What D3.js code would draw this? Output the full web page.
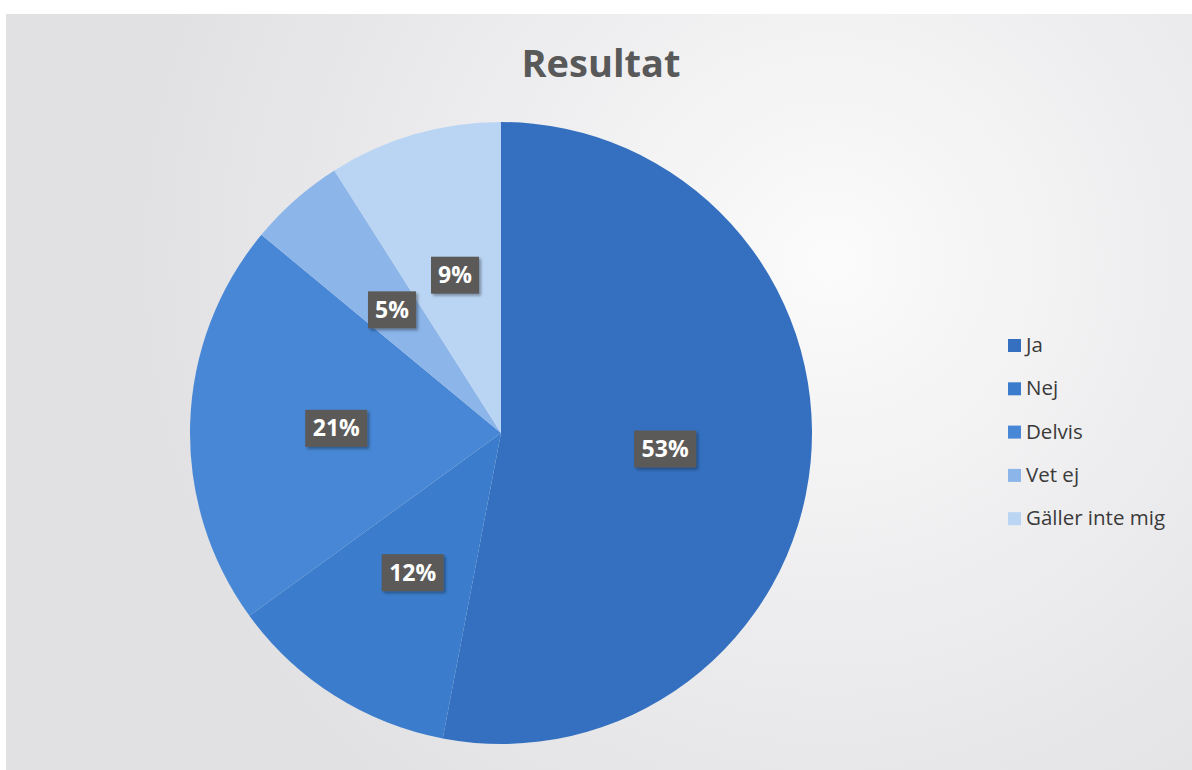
<!DOCTYPE html>
<html>
<head>
<meta charset="utf-8">
<script src="https://cdn.jsdelivr.net/npm/d3@7"></script>
<style>
  body { margin:0; background:#fff; }
  svg { display:block; }
</style>
</head>
<body>
<svg id="chart" width="1192" height="770"></svg>
<script>

// data
var categories = ['Ja', 'Nej', 'Delvis', 'Vet ej', 'Gäller inte mig'];
var values = [53, 12, 21, 5, 9];
var colors = ['#3470bf', '#3b7dcc', '#4787d5', '#8cb5ea', '#bad5f4'];

var width = 1192, height = 770;
var cx = 501, cy = 433, radius = 311;

var svg = d3.select('#chart');

// background panel with a soft light spot
var defs = svg.append('defs');
var grad = defs.append('radialGradient')
  .attr('id', 'bg')
  .attr('gradientUnits', 'userSpaceOnUse')
  .attr('cx', 830).attr('cy', 260).attr('r', 700);
grad.append('stop').attr('offset', '0%').attr('stop-color', '#fbfbfb');
grad.append('stop').attr('offset', '55%').attr('stop-color', '#ececee');
grad.append('stop').attr('offset', '100%').attr('stop-color', '#e1e1e3');

var shadow = defs.append('filter').attr('id', 'shadow')
  .attr('x', '-20%').attr('y', '-20%').attr('width', '150%').attr('height', '160%');
shadow.append('feDropShadow')
  .attr('dx', 2).attr('dy', 2).attr('stdDeviation', 1.5)
  .attr('flood-color', '#000').attr('flood-opacity', 0.35);

svg.append('rect')
  .attr('x', 6).attr('y', 14)
  .attr('width', width - 6).attr('height', height - 14)
  .attr('fill', 'url(#bg)');

// title
svg.append('text')
  .attr('x', 601).attr('y', 77)
  .attr('text-anchor', 'middle')
  .attr('font-family', 'Open Sans, sans-serif')
  .attr('font-weight', 'bold')
  .attr('font-size', 38)
  .attr('fill', '#595959')
  .text('Resultat');

var color = d3.scaleOrdinal().domain(categories).range(colors);

var pie = d3.pie().sort(null).value(d => d.value);
var arcs = pie(categories.map((c, i) => ({key: c, value: values[i]})));

var arc = d3.arc().innerRadius(0).outerRadius(radius);
var labelArc = d3.arc().innerRadius(radius * 0.53).outerRadius(radius * 0.53);

var g = svg.append('g').attr('transform', 'translate(' + cx + ',' + cy + ')');

g.selectAll('path')
  .data(arcs)
  .join('path')
    .attr('d', arc)
    .attr('fill', d => color(d.data.key));

// data labels: dark box with white percent
var total = d3.sum(values);
var labels = g.selectAll('g.lbl')
  .data(arcs)
  .join('g')
    .classed('lbl', true)
    .attr('transform', d => 'translate(' + labelArc.centroid(d) + ')');

labels.append('rect')
  .attr('x', d => d.data.value >= 10 ? -31 : -24)
  .attr('y', -18)
  .attr('width', d => d.data.value >= 10 ? 62 : 48)
  .attr('height', 37)
  .attr('fill', '#5b5a58')
  .attr('filter', 'url(#shadow)');

labels.append('text')
  .attr('text-anchor', 'middle')
  .attr('dy', '0.37em')
  .attr('font-family', 'Open Sans, sans-serif')
  .attr('font-weight', 'bold')
  .attr('font-size', 23)
  .attr('fill', '#ffffff')
  .text(d => Math.round(d.data.value / total * 100) + '%');

// legend
var legend = svg.append('g').attr('transform', 'translate(1008,345)');
var item = legend.selectAll('g')
  .data(categories)
  .join('g')
    .attr('transform', (d, i) => 'translate(0,' + (i * 43.3) + ')');

item.append('rect')
  .attr('x', 0).attr('y', -6)
  .attr('width', 13).attr('height', 13)
  .attr('fill', d => color(d));

item.append('text')
  .attr('x', 18)
  .attr('dy', '0.35em')
  .attr('font-family', 'Open Sans, sans-serif')
  .attr('font-size', 20.5)
  .attr('fill', '#3a3a3a')
  .text(d => d);

</script>
</body>
</html>
